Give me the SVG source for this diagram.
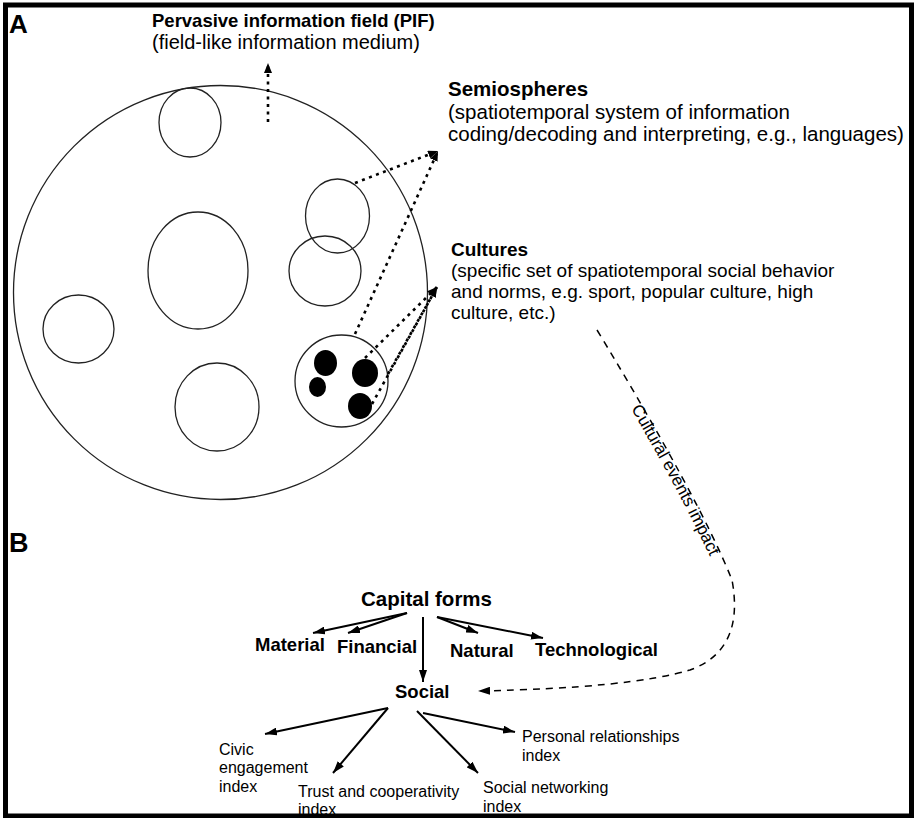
<svg xmlns="http://www.w3.org/2000/svg" width="916" height="818" viewBox="0 0 916 818">
<style>
text{font-family:"Liberation Sans",Arial,sans-serif;fill:#000}
.b{font-weight:bold}
.c{fill:none;stroke:#222;stroke-width:1.3}
.blob{fill:#000}
.dot{fill:none;stroke:#000;stroke-width:2.6;stroke-dasharray:3 4.5}
.sol{fill:none;stroke:#000;stroke-width:2}
.dash{fill:none;stroke:#000;stroke-width:1.5;stroke-dasharray:7 6}
</style>
<defs>
<marker id="ah" viewBox="0 0 10 8" refX="10" refY="4" markerWidth="10" markerHeight="8" markerUnits="userSpaceOnUse" orient="auto"><path d="M0,0 L10,4 L0,8 Z" fill="#000"/></marker>
<marker id="ahs" viewBox="0 0 12 8" refX="12" refY="4" markerWidth="12" markerHeight="8" markerUnits="userSpaceOnUse" orient="auto"><path d="M0,0 L12,4 L0,8 Z" fill="#000"/></marker>
</defs>
<rect x="5.5" y="5" width="906" height="811" fill="#fff" stroke="#000" stroke-width="5"/>
<text class="b" x="9" y="33" font-size="26">A</text>
<text class="b" x="9" y="552" font-size="27">B</text>

<g id="pif">
<circle class="c" cx="220.5" cy="292.5" r="207"/>
<text class="b" x="152" y="26.5" font-size="18.5">Pervasive information field (PIF)</text>
<text x="152" y="48.5" font-size="20">(field-like information medium)</text>
</g>
<g id="spheres">
<ellipse class="c" cx="190" cy="122.5" rx="31" ry="34.5"/>
<ellipse class="c" cx="337.5" cy="216" rx="32" ry="37"/>
<ellipse class="c" cx="325" cy="271" rx="36" ry="35"/>
<ellipse class="c" cx="198" cy="270.5" rx="50" ry="58.5"/>
<ellipse class="c" cx="78.5" cy="329" rx="35.5" ry="34"/>
<ellipse class="c" cx="217" cy="407" rx="42" ry="44"/>
</g>
<g id="culture-circle">
<ellipse class="c" cx="341.5" cy="381" rx="46.5" ry="46"/>
<ellipse class="blob" cx="325.5" cy="363" rx="11.5" ry="13"/>
<ellipse class="blob" cx="317.5" cy="387" rx="8.5" ry="10"/>
<ellipse class="blob" cx="365" cy="373" rx="13" ry="14"/>
<ellipse class="blob" cx="360" cy="406" rx="12" ry="13"/>
</g>
<g id="semiospheres">
<text class="b" x="448" y="96" font-size="20.5">Semiospheres</text>
<text x="448" y="119" font-size="20.5">(spatiotemporal system of information</text>
<text x="448" y="141" font-size="20.5">coding/decoding and interpreting, e.g., languages)</text>
</g>
<g id="cultures">
<text class="b" x="451" y="256" font-size="19">Cultures</text>
<text x="451" y="277" font-size="19">(specific set of spatiotemporal social behavior</text>
<text x="451" y="298" font-size="19">and norms, e.g. sport, popular culture, high</text>
<text x="451" y="319" font-size="19">culture, etc.)</text>
</g>
<g id="capital-forms"><text class="b" x="361" y="606" font-size="20.5">Capital forms</text></g>
<g id="material"><text class="b" x="255" y="651" font-size="18.5">Material</text></g>
<g id="financial"><text class="b" x="337" y="653" font-size="18.5">Financial</text></g>
<g id="natural"><text class="b" x="450" y="657" font-size="18.5">Natural</text></g>
<g id="technological"><text class="b" x="535" y="656" font-size="18.5">Technological</text></g>
<g id="social"><text class="b" x="395" y="698" font-size="18.5">Social</text></g>
<g id="civic"><text x="219" y="755" font-size="16">Civic</text><text x="219" y="773" font-size="16">engagement</text><text x="219" y="792" font-size="16">index</text></g>
<g id="trust"><text x="298" y="797" font-size="16">Trust and cooperativity</text><text x="298" y="815" font-size="16">index</text></g>
<g id="networking"><text x="483" y="793" font-size="16">Social networking</text><text x="483" y="812" font-size="16">index</text></g>
<g id="personal"><text x="522" y="742" font-size="16">Personal relationships</text><text x="522" y="761" font-size="16">index</text></g>

<g id="connectors">
<path class="dot" d="M268,122 L268,63" marker-end="url(#ah)"/>
<path class="dot" d="M355,183 L438,151" marker-end="url(#ah)"/>
<path class="dot" d="M355,334 L438,151" marker-end="url(#ah)"/>
<path class="dot" d="M365,358 L437,287" marker-end="url(#ah)"/>
<path class="dot" d="M388,374 L437,287" marker-end="url(#ah)"/>
<path class="dot" d="M372,404 L437,287" marker-end="url(#ah)"/>
<path class="sol" d="M407,613 L313,633" marker-end="url(#ahs)"/>
<path class="sol" d="M407,613 L348,633" marker-end="url(#ahs)"/>
<path class="sol" d="M423,617 L423,682" marker-end="url(#ahs)"/>
<path class="sol" d="M437,617 L478,633" marker-end="url(#ahs)"/>
<path class="sol" d="M437,617 L543,638" marker-end="url(#ahs)"/>
<path class="sol" d="M388,708 L265,734" marker-end="url(#ahs)"/>
<path class="sol" d="M388,708 L333,773" marker-end="url(#ahs)"/>
<path class="sol" d="M417,711 L478,773" marker-end="url(#ahs)"/>
<path class="sol" d="M423,713 L515,732" marker-end="url(#ahs)"/>
<path id="cei" class="dash" d="M597,330 Q700,500 732,580 Q745,650 690,670 Q630,688 478,691" marker-end="url(#ahs)"/>
<text font-size="17"><textPath href="#cei" startOffset="85"><tspan dy="11">Cultural events impact</tspan></textPath></text>
</g>
</svg>
